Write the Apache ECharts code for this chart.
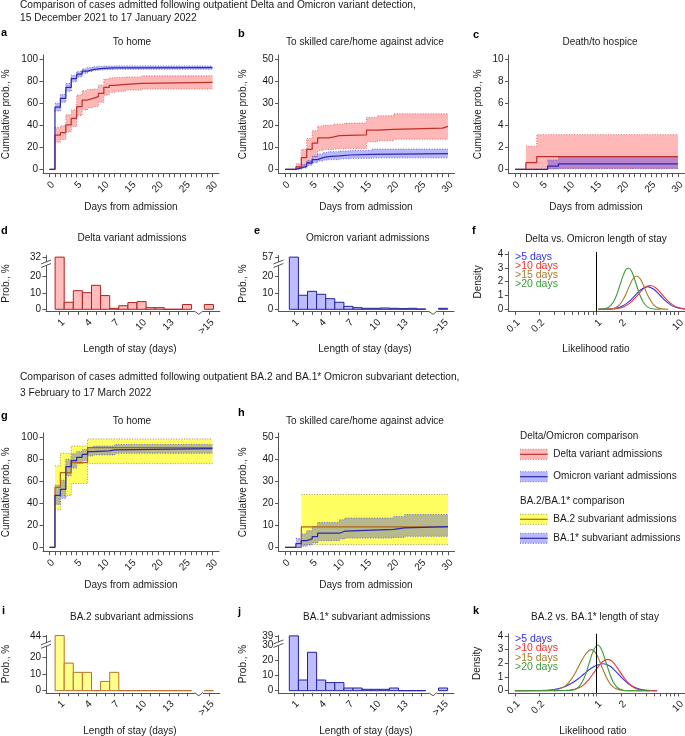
<!DOCTYPE html>
<html><head><meta charset="utf-8">
<script src="https://cdn.jsdelivr.net/npm/echarts@6.0.0/dist/echarts.min.js"></script>
<style>html,body{margin:0;padding:0;background:#fff}#c{width:685px;height:736px}</style>
</head><body><div id="c"></div>
<script>
// ---------------- DATA ----------------
// Panel a: to home (Delta / Omicron)
const aDeltaT = [0,1,2,3,4,5,6,7,8,9,10,11,12,14,17,30];
const aDeltaEst = [0,31,33.3,40.3,46.4,57,63,64.5,66,69,74.5,76.4,77.3,78.2,79,79];
const aDeltaBandT = [1,2,3,4,5,6,7,8,9,10,11,12,14,17,30];
const aDeltaLo = [24.5,27,34,39,49,54,56,57,61,67.5,70,71,72,73,73];
const aDeltaHi = [38,39.5,49.5,54,67.5,71.5,72.5,73,76.5,82,83,83.5,84,85,85];
const aOmiT = [0,1,2,3,4,5,6,7,8,9,10,12,30];
const aOmiEst = [0,56.5,64.5,74.5,82.5,86.5,89.3,90.7,91.4,91.8,92.2,92.4,92.4];
const aOmiBandT = [1,2,3,4,5,6,7,8,9,10,12,30];
const aOmiLo = [53,61,71,79.5,84,87.3,89,90,90.4,90.8,91,91];
const aOmiHi = [60,68,78,85.5,89,91.3,92.5,93.2,93.5,93.8,94,94];
// Panel b: to skilled care / home against advice
const bDeltaT = [0,2,3,4,5,6,8,9,10,15,17,20,29,30];
const bDeltaEst = [0,1.1,5.3,9.1,11.9,14.3,14.7,15.3,15.7,17.8,18.2,18.7,19.5,19.5];
const bDeltaBandT = [2,3,4,5,6,7,9,11,15,17,20,30];
const bDeltaLo = [0,0.6,2.6,5.6,8.5,9,9.3,9.5,12.5,13,13.7,13.7];
const bDeltaHi = [2.5,9,14,17.5,19.6,20,20.5,21,23.6,24.3,25.2,25.2];
const bOmiT = [0,2,3,4,5,6,7,8,10,12,16,30];
const bOmiEst = [0,0.6,1.4,2.9,4.4,5.3,5.8,6.1,6.5,6.8,7.1,7.1];
const bOmiBandT = [2,3,4,5,6,7,8,10,12,16,30];
const bOmiLo = [0.2,0.7,1.8,3,3.8,4.2,4.4,4.8,5,5.2,5.2];
const bOmiHi = [1.2,2.2,4,6,7,7.6,8,8.3,8.6,9.2,9.2];
// Panel c: death / to hospice
const cDeltaT = [0,2,4,30];
const cDeltaEst = [0,0.6,1.15,1.15];
const cDeltaBandT = [2,4,30];
const cDeltaLo = [0.02,0.05,0.05];
const cDeltaHi = [2.1,3.15,3.15];
const cOmiT = [0,6,8,30];
const cOmiEst = [0,0.3,0.5,0.5];
const cOmiBandT = [6,8,30];
const cOmiLo = [0.03,0.08,0.08];
const cOmiHi = [0.85,1.15,1.15];
// Panel g: to home (BA.2 / BA.1*)
const gBa2T = [0,1,2,4,7,30];
const gBa2Est = [0,54.5,68,77,90.6,90.6];
const gBa2BandT = [1,2,4,7,30];
const gBa2Lo = [34,47,58,76,76];
const gBa2Hi = [74,85.5,92,98.5,98.5];
const gBa1T = [0,1,2,3,4,5,6,7,8,11,12,30];
const gBa1Est = [0,47.3,52.7,73.3,78.8,81.8,84.5,87,87.6,88.5,89.7,89.7];
const gBa1BandT = [1,2,3,4,5,6,7,8,12,30];
const gBa1Lo = [39,44.5,65,72,76,79,83,84,85.5,85.5];
const gBa1Hi = [56.5,61,80,85,87,89,91,92,93.5,93.5];
// Panel h: to skilled care (BA.2 / BA.1*)
const hBa2T = [0,3,30];
const hBa2Est = [0,9.3,9.3];
const hBa2BandT = [3,30];
const hBa2Lo = [1.3,1.3];
const hBa2Hi = [24,24];
const hBa1T = [0,2,3,4,5,6,10,11,20,22,30];
const hBa1Est = [0,1.7,3.0,3.8,4.9,6.4,7.3,8.2,8.8,9.4,9.4];
const hBa1BandT = [2,3,4,5,6,10,11,20,22,30];
const hBa1Lo = [0.1,0.5,1,2,3,3.8,4.2,4.5,5,5];
const hBa1Hi = [4,6,7.5,9.5,11.3,12.5,13.3,14,14.9,14.9];
// Length of stay histograms (%)
const losLabels = ['1','2','3','4','5','6','7','8','9','10','11','12','13','14','15','>15'];
const deltaLos = [32,4.3,11.4,10.2,14.7,8.4,0.6,2.2,4.1,4.7,1,1,0,0,2.9,2.9];
const omicronLos = [57,8.6,11,9.2,6.5,4.3,1.8,1,0.6,0.6,0.8,0.6,0.4,0.6,0.2,0.6];
const ba2Los = [44.4,16.7,11.1,11.1,0,5.6,11.1,0,0,0,0,0,0,0,0,0];
const ba1Los = [39,7,25.2,7,5.3,5.3,1.75,1.75,0.9,0.9,0.9,1.75,0,0,0,1.75];
// Likelihood-ratio densities, panel f
const fLR5 = [1.05,1.3,1.7,2.1,2.5,3.0,3.5,4.2,5.0,6.0,7.0,8.5,10,12];
const fD5 = [0,0.01,0.07,0.25,0.57,1.05,1.44,1.64,1.45,1.0,0.59,0.23,0.09,0.02];
const fLR10 = [1.05,1.5,2.0,2.5,3.0,3.5,4.0,4.6,5.3,6.2,7.2,8.5,10,12];
const fD10 = [0,0.01,0.11,0.41,0.86,1.32,1.62,1.72,1.54,1.12,0.68,0.32,0.12,0.03];
const fLR15 = [1.05,1.3,1.6,1.9,2.2,2.5,2.8,3.1,3.4,3.8,4.3,5.0,6.0,7.5];
const fD15 = [0,0.01,0.06,0.32,0.9,1.66,2.23,2.41,2.21,1.63,0.91,0.31,0.05,0];
const fLR20 = [1.05,1.3,1.5,1.7,1.9,2.1,2.3,2.5,2.7,3.0,3.3,3.7,4.2,5.0,6.0];
const fD20 = [0,0.06,0.3,0.83,1.64,2.42,2.91,2.98,2.7,1.94,1.19,0.53,0.16,0.02,0];
// Likelihood-ratio densities, panel k
const kLR5 = [0.1,0.2,0.3,0.4,0.5,0.6,0.7,0.85,1.0,1.2,1.45,1.7,2.0,2.4,2.9,3.5,4.5,5.5];
const kD5 = [0,0.01,0.08,0.27,0.56,0.89,1.22,1.62,1.86,1.97,1.8,1.43,0.98,0.55,0.25,0.09,0.02,0];
const kLR10 = [0.3,0.4,0.5,0.6,0.7,0.8,0.9,1.0,1.1,1.2,1.36,1.55,1.8,2.1,2.5,3.0,3.6,4.5,5.5];
const kD10 = [0,0.01,0.06,0.19,0.45,0.81,1.22,1.61,1.94,2.16,2.29,2.14,1.65,1.05,0.49,0.17,0.04,0,0];
const kLR15 = [0.1,0.2,0.3,0.4,0.5,0.6,0.7,0.8,0.87,1.0,1.1,1.2,1.35,1.5,1.7,2.0,2.5,4.5];
const kD15 = [0,0,0.04,0.28,0.9,1.75,2.5,2.92,3.0,2.64,2.09,1.52,0.84,0.43,0.16,0.03,0,0];
const kLR20 = [0.1,0.3,0.4,0.5,0.6,0.7,0.8,0.9,1.03,1.15,1.3,1.45,1.6,1.8,2.1,2.5,4.5];
const kD20 = [0,0,0.01,0.03,0.26,0.9,1.91,2.84,3.34,3.0,2.08,1.22,0.62,0.22,0.04,0,0];
// Tick labels
const kmLabelDays = [0,5,10,15,20,25,30];
const lrTickLabels = [0.1,0.2,1,2,10];
const densLabels = [0,1,2,3,4];

// ---------------- LAYOUT / STYLE ----------------
const FONT = '"Liberation Sans", Arial, Helvetica, sans-serif';
const AX = '#555', TXT = '#1a1a1a';
const RED_L = '#c0302a', BLUE_L = '#2a2aa8', BROWN_L = '#b0641c';
const RED_F = 'rgba(255,0,0,0.28)', BLUE_F = 'rgba(0,0,255,0.28)', YEL_F = 'rgba(255,255,0,0.62)';
const RED_E = '#e06a6a', BLUE_E = '#6a6ad8', YEL_E = '#9c9c50';
const C5 = '#3232f5', C10 = '#f03232', C15 = '#a57a28', C20 = '#3a9a3a';
const dayTicks = [...Array(31).keys()];
const losPos = losLabels.map((l, i) => i < 15 ? i + 1 : 17.4);
const lrTicks = [0.1,0.2,0.3,0.4,0.5,0.6,0.7,0.8,0.9,1,2,3,4,5,6,7,8,9,10];

const G = [
  {left:43, top:54.9, width:176, height:118.8},     // a
  {left:278.5, top:54.9, width:176, height:118.8},  // b
  {left:508.5, top:54.9, width:176, height:118.8},  // c
  {left:46, top:255.5, width:173.8, height:55.9},   // d
  {left:278.4, top:255.5, width:175.6, height:55.9},// e
  {left:508.3, top:251.9, width:176.7, height:59.6},// f
  {left:43, top:432.9, width:176, height:118.8},    // g
  {left:278.5, top:432.9, width:176, height:118.8}, // h
  {left:46, top:635.4, width:173.8, height:57.4},   // i
  {left:278.4, top:635.1, width:175.6, height:57.7},// j
  {left:508.3, top:633.8, width:176.7, height:59.1} // k
];

const lblStyle = {fontSize:10, color:TXT, fontFamily:FONT, hideOverlap:false};
const rotLbl = {rotate:45, margin:6, align:'right', verticalAlign:'top'};
function axLine(){ return {show:true, onZero:false, lineStyle:{color:AX, width:1}}; }
function kmX(i){
  return {gridIndex:i, type:'value', min:-1.2, max:31.2, axisLine:axLine(),
    axisTick:{show:true, length:3.5, customValues:dayTicks, lineStyle:{color:AX}},
    axisLabel:Object.assign({customValues:kmLabelDays}, rotLbl, lblStyle),
    splitLine:{show:false}};
}
function yAx(i, min, max, labels, extra){
  return Object.assign({gridIndex:i, type:'value', position:'left', min:min, max:max, axisLine:axLine(),
    axisTick:{show:true, length:3.5, customValues:labels, lineStyle:{color:AX}},
    axisLabel:Object.assign({customValues:labels, margin:5, showMinLabel:true, showMaxLabel:true}, lblStyle),
    splitLine:{show:false}}, extra || {});
}
function kmY(i, top, step){
  const labels = []; for (let v = 0; v <= top + 1e-9; v += step) labels.push(+v.toFixed(3));
  return yAx(i, -0.04*top, 1.04*top, labels);
}
function histX(i, min){
  return {gridIndex:i, type:'value', min:min, max:18.6, axisLine:axLine(),
    axisTick:{show:true, length:3.5, customValues:losPos, lineStyle:{color:AX}},
    axisLabel:Object.assign({customValues:[1,4,7,10,13,losPos[15]],
      formatter:function(v){ for (let k=0;k<losPos.length;k++){ if (Math.abs(losPos[k]-v)<1e-6) return losLabels[k]; } return ''; }}, rotLbl, lblStyle),
    splitLine:{show:false}};
}
function densX(i){
  return {gridIndex:i, type:'log', logBase:10, min:0.0832, max:12.02, axisLine:axLine(),
    axisTick:{show:true, length:3.5, customValues:lrTicks, lineStyle:{color:AX}},
    axisLabel:Object.assign({customValues:lrTickLabels,
      formatter:function(v){ return String(+(+v).toPrecision(3)); }}, rotLbl, lblStyle),
    splitLine:{show:false}, minorTick:{show:false}};
}
function stepLine(gi, t, v, color, z){
  return {type:'line', xAxisIndex:gi, yAxisIndex:gi, step:'end', data:t.map((x,i)=>[x, v[i]]),
    symbol:'none', lineStyle:{color:color, width:1.25}, z:z, silent:true};
}
function band(gi, t, lo, hi, fill, edge, z){
  return {type:'custom', xAxisIndex:gi, yAxisIndex:gi, z:z, silent:true,
    data:t.map((x,i)=>[x, lo[i], hi[i]]), encode:{x:0, y:[1,2]},
    renderItem:function(params, api){
      if (params.dataIndex !== 0) return null;
      const up = [], dn = [];
      for (let i = 0; i < t.length; i++){
        const t1 = i + 1 < t.length ? t[i+1] : t[i];
        up.push(api.coord([t[i], hi[i]]), api.coord([t1, hi[i]]));
        dn.push(api.coord([t[i], lo[i]]), api.coord([t1, lo[i]]));
      }
      const poly = up.concat(dn.slice().reverse());
      return {type:'group', children:[
        {type:'polygon', shape:{points:poly}, style:{fill:fill, stroke:null}},
        {type:'polyline', shape:{points:up}, style:{fill:null, stroke:edge, lineWidth:1, lineDash:[1,1.6]}},
        {type:'polyline', shape:{points:dn}, style:{fill:null, stroke:edge, lineWidth:1, lineDash:[1,1.6]}}
      ]};
    }};
}
function hist(gi, vals, fill, stroke){
  return {type:'custom', xAxisIndex:gi, yAxisIndex:gi, silent:true, z:3,
    data:vals.map((v,i)=>[losPos[i], v]), encode:{x:0, y:1},
    renderItem:function(params, api){
      const x = api.value(0), v = api.value(1);
      const p0 = api.coord([x-0.5, v]), p1 = api.coord([x+0.5, 0]);
      return {type:'rect', shape:{x:p0[0], y:p0[1], width:p1[0]-p0[0], height:p1[1]-p0[1]},
        style:{fill:fill, stroke:stroke, lineWidth:1}};
    }};
}
function dens(gi, x, y, color, withRef){
  const s = {type:'line', xAxisIndex:gi, yAxisIndex:gi, smooth:0.35, symbol:'none', silent:true, z:4,
    data:x.map((v,i)=>[v, y[i]]), lineStyle:{color:color, width:1.1}};
  if (withRef) s.markLine = {silent:true, symbol:'none', label:{show:false},
    lineStyle:{color:'#000', type:'solid', width:1}, data:[{xAxis:1}]};
  return s;
}

const jBreak = {breaks:[{start:32,end:35,gap:0}], breakArea:{show:false}};
const xAxes = [kmX(0), kmX(1), kmX(2), histX(3,-0.5), histX(4,-0.7), densX(5), kmX(6), kmX(7), histX(8,-0.5), histX(9,-0.7), densX(10)];
const yAxes = [
  kmY(0,100,20), kmY(1,50,10), kmY(2,10,2),
  yAx(3,-1.3,33,[0,10,20,32]),
  yAx(4,-1.3,58,[0,10,20,57],{breaks:[{start:29,end:54,gap:0}], breakArea:{show:false}}),
  yAx(5,-0.16,4.16,densLabels),
  kmY(6,100,20), kmY(7,50,10),
  yAx(8,-1.3,44.5,[0,10,20,44],{breaks:[{start:29,end:40,gap:0}], breakArea:{show:false}}),
  yAx(9,-1.4,39.5,[0,10,20,30],jBreak),
  yAx(10,-0.16,4.16,densLabels),
  // second left axis of panel j carrying only the top (broken) tick label
  yAx(9,-1.4,39.5,[39],Object.assign({axisLine:{show:false, onZero:false}}, jBreak))
];

const series = [
  band(0,aDeltaBandT,aDeltaLo,aDeltaHi,RED_F,RED_E,1), band(0,aOmiBandT,aOmiLo,aOmiHi,BLUE_F,BLUE_E,1),
  stepLine(0,aDeltaT,aDeltaEst,RED_L,3), stepLine(0,aOmiT,aOmiEst,BLUE_L,4),
  band(1,bDeltaBandT,bDeltaLo,bDeltaHi,RED_F,RED_E,1), band(1,bOmiBandT,bOmiLo,bOmiHi,BLUE_F,BLUE_E,1),
  stepLine(1,bDeltaT,bDeltaEst,RED_L,3), stepLine(1,bOmiT,bOmiEst,BLUE_L,4),
  band(2,cDeltaBandT,cDeltaLo,cDeltaHi,RED_F,RED_E,1), band(2,cOmiBandT,cOmiLo,cOmiHi,BLUE_F,BLUE_E,1),
  stepLine(2,cDeltaT,cDeltaEst,RED_L,3), stepLine(2,cOmiT,cOmiEst,BLUE_L,4),
  hist(3,deltaLos,'#ffbcbc','#b02020'), hist(4,omicronLos,'#bcbcff','#2222a0'),
  dens(5,fLR5,fD5,C5,true), dens(5,fLR10,fD10,C10), dens(5,fLR15,fD15,C15), dens(5,fLR20,fD20,C20),
  band(6,gBa2BandT,gBa2Lo,gBa2Hi,YEL_F,YEL_E,1), band(6,gBa1BandT,gBa1Lo,gBa1Hi,BLUE_F,BLUE_E,1),
  stepLine(6,gBa2T,gBa2Est,BROWN_L,3), stepLine(6,gBa1T,gBa1Est,BLUE_L,4),
  band(7,hBa2BandT,hBa2Lo,hBa2Hi,YEL_F,YEL_E,1), band(7,hBa1BandT,hBa1Lo,hBa1Hi,BLUE_F,BLUE_E,1),
  stepLine(7,hBa2T,hBa2Est,BROWN_L,3), stepLine(7,hBa1T,hBa1Est,BLUE_L,4),
  hist(8,ba2Los,'#ffff8c','#b8702a'), hist(9,ba1Los,'#bcbcff','#2222a0'),
  dens(10,kLR5,kD5,C5,true), dens(10,kLR10,kD10,C10), dens(10,kLR15,kD15,C15), dens(10,kLR20,kD20,C20)
];

// ---------------- TEXT ----------------
function T(text, x, y, o){
  o = o || {};
  return {type:'text', x:x, y:y, rotation:o.rot || 0, silent:true, z:50,
    style:{text:text, fill:o.color || TXT, font:(o.bold ? 'bold ' : '') + (o.size || 10) + 'px ' + FONT,
      align:o.align || 'center', verticalAlign:'middle'}};
}
const texts = [];
texts.push(T('Comparison of cases admitted following outpatient Delta and Omicron variant detection,', 20, 5.5, {align:'left', size:10.2}));
texts.push(T('15 December 2021 to 17 January 2022', 20, 18.5, {align:'left', size:10.2}));
texts.push(T('Comparison of cases admitted following outpatient BA.2 and BA.1* Omicron subvariant detection,', 20, 377.3, {align:'left', size:10.2}));
texts.push(T('3 February to 17 March 2022', 20, 393.2, {align:'left', size:10.2}));
[['a',1,33],['b',238,34],['c',473,35],['d',1,231],['e',254,231],['f',472,231],['g',1,416],['h',238,413],['i',2,611],['j',238,612],['k',473,611]]
  .forEach(l => texts.push(T(l[0], l[1], l[2], {align:'left', bold:true, size:11, color:'#000'})));
[['To home',132,42.7],['To skilled care/home against advice',365,42.7],['Death/to hospice',600,42.7],
 ['Delta variant admissions',132,238.3],['Omicron variant admissions',367.7,238.3],['Delta vs. Omicron length of stay',596,239],
 ['To home',132,421.7],['To skilled care/home against advice',365,421],
 ['BA.2 subvariant admissions',131.7,617.7],['BA.1* subvariant admissions',366.7,617.7],['BA.2 vs. BA.1* length of stay',595,617.7]]
  .forEach(l => texts.push(T(l[0], l[1], l[2])));
[[131,207],[366,207],[596,207],[131,585],[366,585]].forEach(p => texts.push(T('Days from admission', p[0], p[1])));
[[130,349],[365,349],[130,731],[366,731]].forEach(p => texts.push(T('Length of stay (days)', p[0], p[1])));
[[596,349],[593,731]].forEach(p => texts.push(T('Likelihood ratio', p[0], p[1])));
[[6.5,114.3],[243.3,114.3],[478.3,114.3],[6.5,492.3],[243.3,492.3]].forEach(p => texts.push(T('Cumulative prob., %', p[0], p[1], {rot:Math.PI/2})));
[[6.5,283.5],[243.3,283.5],[6.5,664],[243.3,664]].forEach(p => texts.push(T('Prob., %', p[0], p[1], {rot:Math.PI/2})));
[[478.3,281.8],[477.7,663.3]].forEach(p => texts.push(T('Density', p[0], p[1], {rot:Math.PI/2})));
const lyF = [256.7,265.9,275.2,284.6], lyK = [639,648.4,657.8,667.3];
[['>5 days',C5],['>10 days',C10],['>15 days',C15],['>20 days',C20]].forEach((l,i) => {
  texts.push(T(l[0], 515, lyF[i], {align:'left', size:10.5, color:l[1]}));
  texts.push(T(l[0], 515, lyK[i], {align:'left', size:10.5, color:l[1]}));
});
// legend block
function swatch(y, fill, edge, line){
  return [
    {type:'rect', shape:{x:520, y:y, width:27.7, height:10}, style:{fill:fill}, silent:true},
    {type:'line', shape:{x1:520, y1:y, x2:547.7, y2:y}, style:{stroke:edge, lineWidth:1, lineDash:[1,1.6]}, silent:true},
    {type:'line', shape:{x1:520, y1:y+10, x2:547.7, y2:y+10}, style:{stroke:edge, lineWidth:1, lineDash:[1,1.6]}, silent:true},
    {type:'line', shape:{x1:520, y1:y+5, x2:547.7, y2:y+5}, style:{stroke:line, lineWidth:1.2}, silent:true}
  ];
}
const legendEls = [].concat(
  [T('Delta/Omicron comparison', 520, 436.7, {align:'left'})],
  swatch(449.3, RED_F, RED_E, RED_L), [T('Delta variant admissions', 553.3, 454.3, {align:'left'})],
  swatch(471.7, BLUE_F, BLUE_E, BLUE_L), [T('Omicron variant admissions', 553.3, 476.7, {align:'left'})],
  [T('BA.2/BA.1* comparison', 520, 501.7, {align:'left'})],
  swatch(514.3, YEL_F, YEL_E, BROWN_L), [T('BA.2 subvariant admissions', 553.3, 519.3, {align:'left'})],
  swatch(533.3, BLUE_F, BLUE_E, BLUE_L), [T('BA.1* subvariant admissions', 553.3, 538.3, {align:'left'})]
);

const chart = echarts.init(document.getElementById('c'), null, {renderer:'canvas'});
chart.setOption({
  animation:false, backgroundColor:'#fff',
  grid:G.map(g => Object.assign({containLabel:false, outerBoundsMode:'none'}, g)),
  xAxis:xAxes, yAxis:yAxes, series:series,
  graphic:{elements:texts.concat(legendEls)}
});

// axis-break glyphs
const brk = [];
function yBreak(gi, yv){
  const ax = G[gi].left;
  const py = chart.convertToPixel({gridIndex:gi}, [losPos[0], yv])[1];
  brk.push({type:'polygon', shape:{points:[[ax-5,py+2],[ax+5,py-2],[ax+5,py+1.5],[ax-5,py+5.5]]}, style:{fill:'#fff'}, silent:true, z:60});
  brk.push({type:'line', shape:{x1:ax-5,y1:py+2,x2:ax+5,y2:py-2}, style:{stroke:AX, lineWidth:1}, silent:true, z:61});
  brk.push({type:'line', shape:{x1:ax-5,y1:py+5.5,x2:ax+5,y2:py+1.5}, style:{stroke:AX, lineWidth:1}, silent:true, z:61});
}
function xBreak(gi){
  const y0 = G[gi].top + G[gi].height;
  const xa = chart.convertToPixel({gridIndex:gi}, [15.85, 0])[0];
  const xb = chart.convertToPixel({gridIndex:gi}, [16.75, 0])[0];
  brk.push({type:'rect', shape:{x:xa, y:y0-1.5, width:xb-xa, height:3}, style:{fill:'#fff'}, silent:true, z:60});
  brk.push({type:'polyline', shape:{points:[[xa,y0],[xa+(xb-xa)*0.5,y0+3],[xb,y0-0.5]]}, style:{stroke:AX, fill:null, lineWidth:1}, silent:true, z:61});
}
yBreak(3, 29); yBreak(4, 29); yBreak(8, 29); yBreak(9, 32.5);
xBreak(3); xBreak(4); xBreak(8); xBreak(9);
chart.setOption({graphic:{elements:texts.concat(legendEls, brk)}}, {replaceMerge:['graphic']});
</script></body></html>
